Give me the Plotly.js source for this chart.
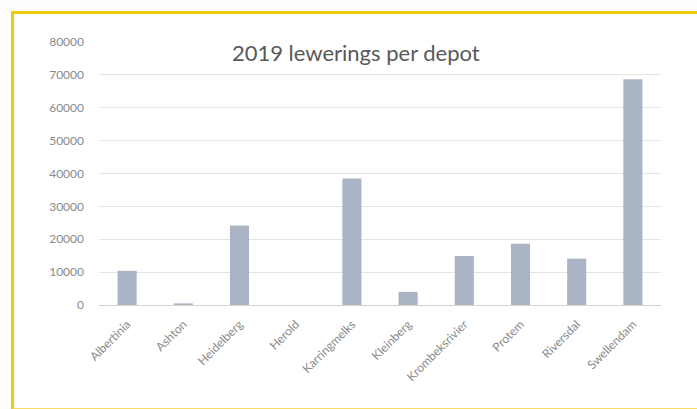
<!DOCTYPE html>
<html>
<head>
<meta charset="utf-8">
<script src="https://cdn.plot.ly/plotly-3.0.1.min.js"></script>
<style>
html,body{margin:0;padding:0;background:#fdfdfb;}
#wrap{position:relative;width:697px;height:409px;overflow:hidden;}
#frame{position:absolute;left:11px;top:11px;width:700px;height:394px;border-left:3px solid #f2c80f;border-top:3px solid #f2c80f;border-bottom:2px solid #f7dc6a;background:#ffffff;}
#chart{position:absolute;left:0;top:0;width:697px;height:409px;}
</style>
</head>
<body>
<div id="wrap"><div id="frame"></div><div id="chart"></div></div>
<script>
const depots = ["Albertinia","Ashton","Heidelberg","Herold","Karringmelks","Kleinberg","Krombeksrivier","Protem","Riversdal","Swellendam"];
const deliveries = [10400, 500, 24200, 0, 38500, 4000, 14900, 18600, 14100, 68700];
const yTicks = [0,10000,20000,30000,40000,50000,60000,70000,80000];
const chartTitle = "2019 lewerings per depot";

const data = [{
  type: "bar",
  x: depots,
  y: deliveries,
  marker: {color: "#aab4c5"},
  hoverinfo: "x+y"
}];

const layout = {
  width: 697, height: 409,
  paper_bgcolor: "rgba(0,0,0,0)",
  plot_bgcolor: "rgba(0,0,0,0)",
  margin: {l: 99, r: 36, t: 42, b: 104},
  bargap: 0.66,
  showlegend: false,
  font: {family: "Lato, 'Open Sans', sans-serif", color: "#7f7f7f", size: 12},
  title: {
    text: chartTitle,
    font: {family: "Lato, 'Open Sans', sans-serif", size: 22, color: "#595959"},
    x: 0.457, xref: "paper", xanchor: "center",
    y: 1 - 53/409, yref: "container", yanchor: "middle"
  },
  xaxis: {
    tickangle: -45,
    showgrid: false,
    showline: false,
    zeroline: false,
    ticks: "",
    ticklabelstandoff: 9,
    tickfont: {size: 12, color: "#8a8a8a"}
  },
  yaxis: {
    range: [0, 80000],
    tickvals: yTicks,
    ticktext: yTicks.map(String),
    showgrid: true,
    gridcolor: "#e4e4e4",
    gridwidth: 1,
    zeroline: true,
    zerolinecolor: "#d8d2c4",
    showline: false,
    ticks: "",
    ticklabelstandoff: 14,
    tickfont: {size: 12, color: "#8a8a8a"}
  }
};

Plotly.newPlot("chart", data, layout, {displayModeBar: false, staticPlot: true});
</script>
</body>
</html>
